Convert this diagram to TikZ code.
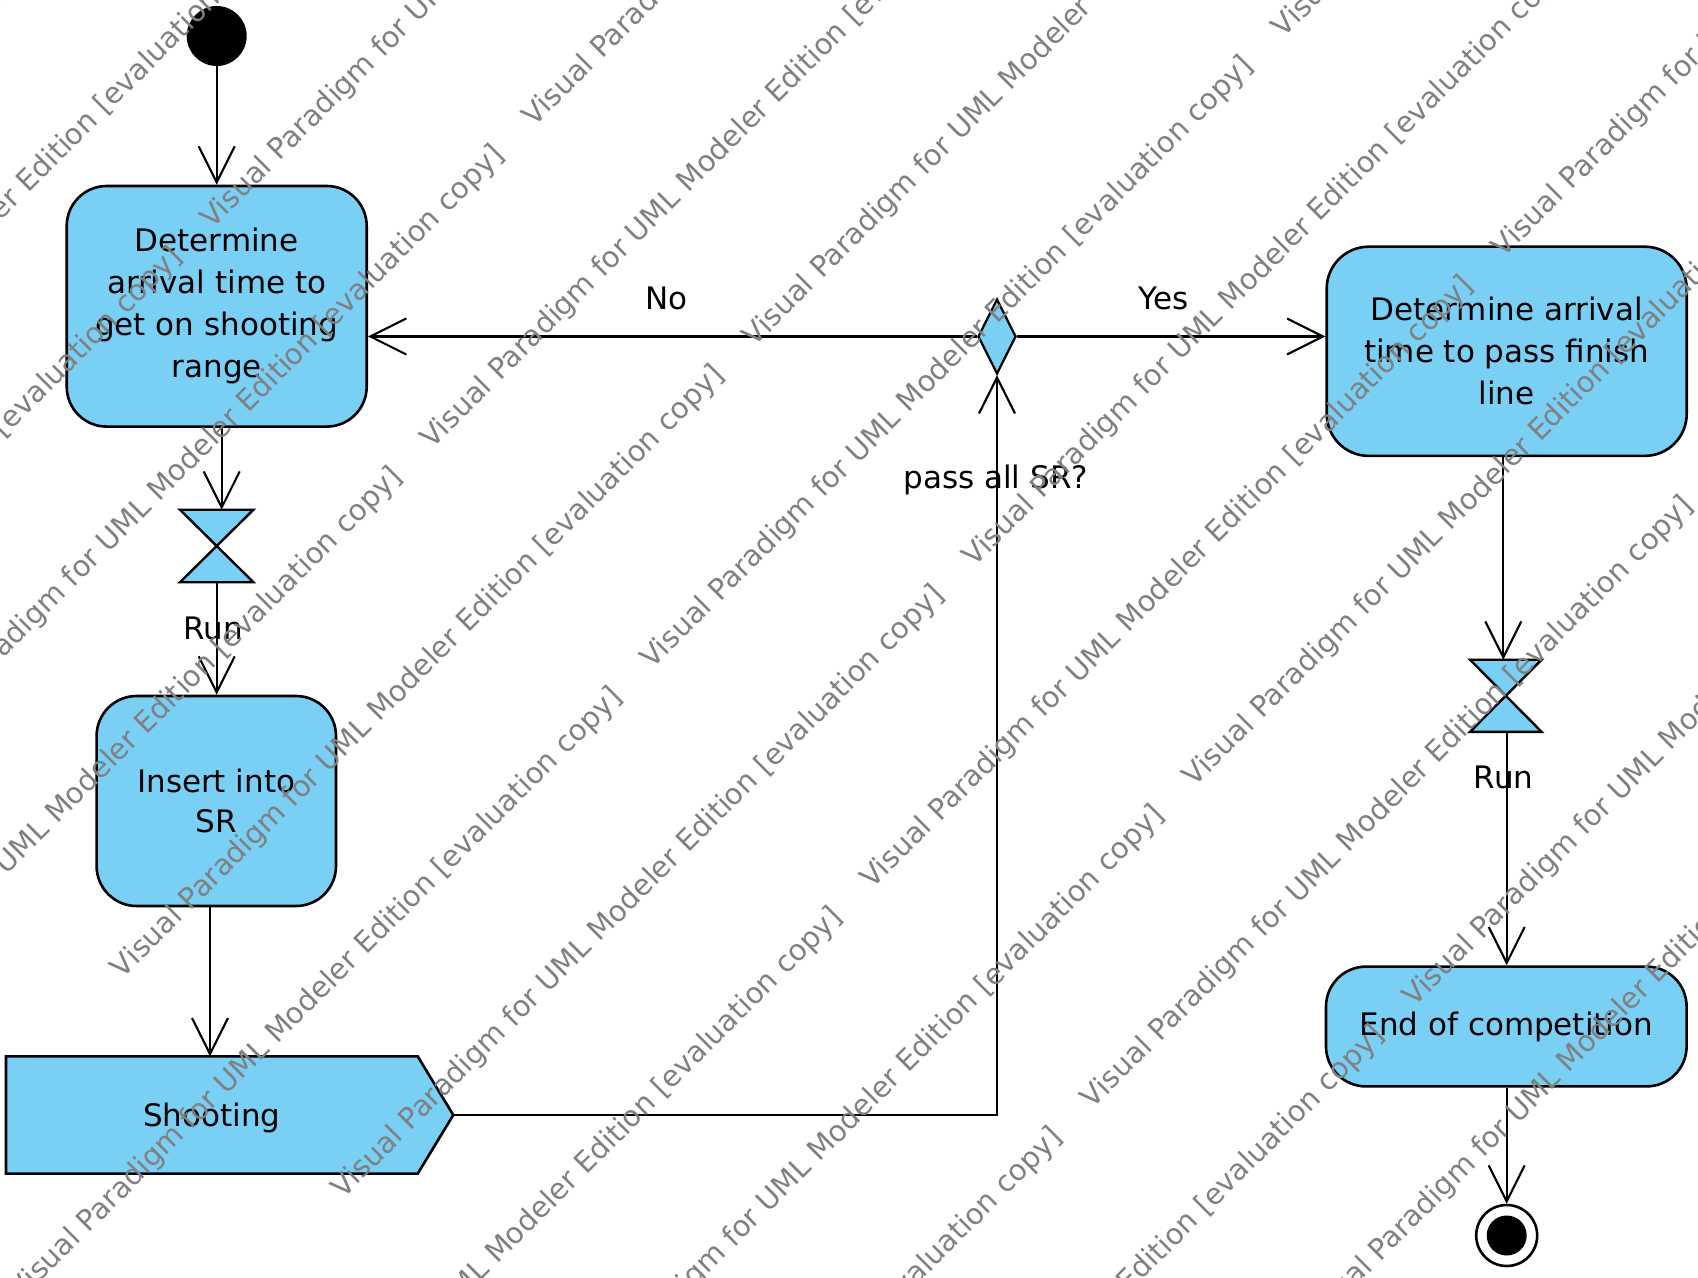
\documentclass[tikz,border=0pt]{standalone}
\usepackage{fontspec}
\setmainfont{DejaVu Sans}
\usetikzlibrary{arrows.meta,shapes.geometric}
\definecolor{vpblue}{RGB}{122,207,245}
\definecolor{wmgray}{RGB}{128,128,128}
\tikzset{
  act/.style={draw=black, line width=1.3pt, fill=vpblue, rounded corners=20pt, inner sep=0pt, align=center, font=\fontsize{15.5}{21}\selectfont},
  lbl/.style={font=\fontsize{15.5}{21}\selectfont, inner sep=0pt},
  conn/.style={line width=1.05pt, -{Straight Barb[length=18pt,width=18pt]}},
  shapeline/.style={fill=vpblue, draw=black, line width=1.2pt, line join=miter},
  holder/.style={inner sep=0pt, outer sep=0pt},
  wm/.style={text=wmgray, font=\fontsize{14.5}{17}\selectfont, anchor=base west, inner sep=0pt, rotate=45},
}
\begin{document}
\begin{tikzpicture}[x=0.5pt,y=-0.5pt]
\useasboundingbox (0,0) rectangle (1698,1278);
\clip (0,0) rectangle (1698,1278);

% initial node
\node[circle, fill=black, minimum size=30pt, inner sep=0pt] (init) at (216.7,36) {};

% left column
\node[act, minimum width=150pt, minimum height=120.3pt] (det1) at (216.7,306.3) {Determine\\arrival time to\\get on shooting\\range};

\node[holder, minimum width=36.7pt, minimum height=36.2pt] (acc1) at (216.7,546) {};
\filldraw[shapeline] (acc1.north west) -- (acc1.north east) -- (acc1.center) -- cycle
  (acc1.center) -- (acc1.south west) -- (acc1.south east) -- cycle;

\node[act, font=\fontsize{15.5}{20}\selectfont, minimum width=119.7pt, minimum height=105pt] (ins) at (216.3,801) {Insert into\\SR};

\node[holder, minimum width=205.85pt, minimum height=58.65pt] (shoot) at (211.85,1115) {};
\coordinate (shootpt) at ([xshift=17.8pt]shoot.east);
\filldraw[shapeline, line width=1.3pt] (shoot.north west) -- (shoot.north east) -- (shootpt) -- (shoot.south east) -- (shoot.south west) -- cycle;
\node[lbl] (shoottxt) at (211.85,1118) {Shooting};

% decision
\node[diamond, draw=black, fill=vpblue, line width=1.1pt, minimum width=19pt, minimum height=37.5pt, inner sep=0pt] (dec) at (997,336.5) {};

% right column
\node[act, rounded corners=21pt, minimum width=180pt, minimum height=104.6pt] (det2) at (1506.7,351.3) {Determine arrival\\time to pass finish\\line};

\node[holder, minimum width=35.85pt, minimum height=36.1pt] (acc2) at (1505.8,695.8) {};
\filldraw[shapeline] (acc2.north west) -- (acc2.north east) -- (acc2.center) -- cycle
  (acc2.center) -- (acc2.south west) -- (acc2.south east) -- cycle;

\node[act, minimum width=180.3pt, minimum height=59.9pt] (endc) at (1506.3,1026.5) {End of competition};

\node[circle, draw=black, line width=1.3pt, fill=white, minimum size=30.5pt, inner sep=0pt] (fin) at (1506.7,1235.5) {};
\fill[black] (fin.center) circle (10pt);

% connectors
\draw[conn] (init) -- (det1);
\draw[conn] ([xshift=2.5pt]det1.south) -- ([xshift=2.5pt]acc1.north);
\draw[conn] (acc1.south) -- (acc1.south |- ins.north);
\node[lbl] (run1) at (213.3,628.3) {Run};
\draw[conn] ([xshift=-3.15pt]ins.south) -- ([xshift=-3.15pt]ins.south |- shoot.north);
\draw[conn] (shootpt) -| (dec.south);
\node[lbl] (passlbl) at (995.8,480) {pass all SR?};
\draw[conn] (dec.west) -- (dec.west -| det1.east);
\node[lbl] (nolbl) at (666.7,298.3) {No};
\draw[conn] (dec.east) -- (dec.east -| det2.west);
\node[lbl] (yeslbl) at (1164,298.3) {Yes};
\draw[conn] ([xshift=-1.7pt]det2.south) -- ([xshift=-1.7pt]det2.south |- acc2.north);
\draw[conn] ([xshift=0.45pt]acc2.south) -- ([xshift=0.45pt]acc2.south |- endc.north);
\node[lbl] (run2) at (1503.7,777) {Run};
\draw[conn] (endc.south -| fin.north) -- (fin.north);

% watermark
\foreach \k in {-4,...,8}{
  \foreach \m in {-1,...,1}{
    \pgfmathsetmacro{\s}{\m*893 + 300*abs(mod(\k,2))}
    \pgfmathsetmacro{\t}{\k*155.6}
    \node[wm] (wm\k\m) at ({432+0.7071*(\s+\t)},{450+0.7071*(\t-\s)}) {Visual Paradigm for UML Modeler Edition [evaluation copy]};
  }
}
\end{tikzpicture}
\end{document}
